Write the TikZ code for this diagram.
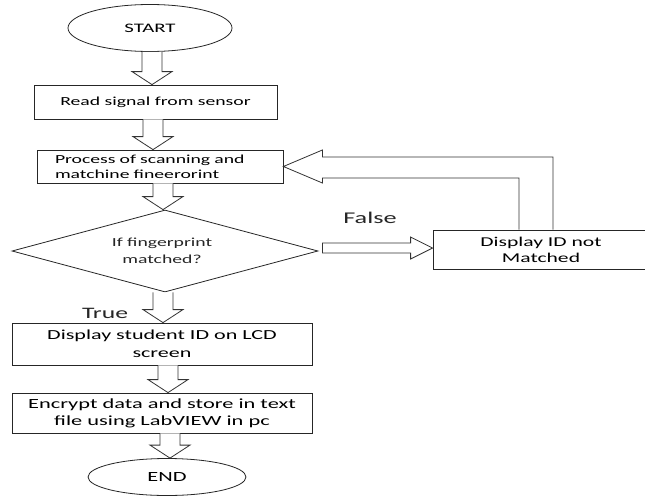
\documentclass[tikz,border=0pt]{standalone}
\usepackage{fontspec}
\setmainfont{Carlito}[FakeStretch=1.6]
\usetikzlibrary{shapes.geometric,calc}
\newcommand\fsz[2]{\fontsize{#1}{#2}\selectfont}
\tikzset{
  ln/.style={draw=black!85, line width=0.8pt},
  boxnode/.style={ln, rectangle, inner sep=0pt, align=center},
  termnode/.style={ln, ellipse, inner sep=0pt},
  decnode/.style={ln, diamond, inner sep=0pt},
  blk/.style={draw=black!80, line width=0.8pt, fill=white, line join=miter},
  lbl/.style={inner sep=0pt, text=black!85},
}
% vertical block arrow: #1 x (pt), #2 from anchor, #3 to anchor
\newcommand\blkdown[3]{%
  \draw[blk] let \p1=(#2), \p2=(#3) in
    (#1pt-10pt,\y1) -- (#1pt-10pt,\y2+13pt) -- (#1pt-20pt,\y2+13pt) --
    (#1pt,\y2) -- (#1pt+20pt,\y2+13pt) -- (#1pt+10pt,\y2+13pt) --
    (#1pt+10pt,\y1);}
\begin{document}
\begin{tikzpicture}[x=1pt,y=-1pt]
\useasboundingbox (0,0) rectangle (645,498);
\fill[white] (0,0) rectangle (645,498);

\node[termnode, minimum width=164pt, minimum height=47pt, font=\fsz{13}{15}] (start) at (150,28)
  {START};
\node[boxnode, minimum width=243pt, minimum height=34pt, font=\fsz{12.3}{14}] (read) at (155.5,102)
  {Read signal from sensor};
\node[boxnode, minimum width=246pt, minimum height=33pt, text width=210pt, align=left, font=\fsz{12.3}{15}] (proc) at (160,166.5)
  {Process of scanning and\\matchine fineerorint};
\node[decnode, minimum width=306pt, minimum height=82pt] (dec) at (165,251) {};
\node[lbl, align=center, font=\fsz{12.3}{17}] (dectext) at (162,250.5)
  {If fingerprint\\matched?};
\node[boxnode, minimum width=300pt, minimum height=42pt, font=\fsz{13.8}{17.5}] (disp) at (162,344)
  {Display student ID on LCD\\screen};
\node[boxnode, minimum width=300pt, minimum height=40pt, font=\fsz{14}{17}] (enc) at (162,413)
  {Encrypt data and store in text\\file using LabVIEW in pc};
\node[termnode, minimum width=158pt, minimum height=37pt, font=\fsz{14}{15}] (end) at (167,477)
  {END};
\node[boxnode, minimum width=216pt, minimum height=39pt, font=\fsz{13.5}{16}] (nom) at (541,249.5)
  {Display ID not\\Matched};

\node[lbl, font=\fsz{16}{18}] (true) at (105,313) {True};
\node[lbl, font=\fsz{16.4}{18}] (false) at (370,218) {False};

\blkdown{152}{start.south}{read.north}
\blkdown{153}{read.south}{proc.north}
\blkdown{163}{proc.south}{dec.north}
\blkdown{163}{dec.south}{disp.north}
\blkdown{168}{disp.south}{enc.north}
\blkdown{170}{enc.south}{end.north}

% False arrow
\draw[blk] let \p1=(dec.east), \p2=(nom.west) in
  (\x1+4pt,\y1+8pt) -- (\x2-22pt,\y1+8pt) -- (\x2-22pt,\y1+14pt) --
  (\x2,\y1+3pt) -- (\x2-22pt,\y1-8pt) -- (\x2-22pt,\y1-2pt) --
  (\x1+4pt,\y1-2pt) -- cycle;

% feedback arrow
\draw[blk] let \p1=(nom.north), \p2=(proc.east) in
  (519pt,\y1) -- (519pt,\y2-11.5pt) -- (\x2+39pt,\y2-11.5pt) --
  (\x2+39pt,\y2-16.5pt) -- (\x2,\y2) -- (\x2+39pt,\y2+16.5pt) --
  (\x2+39pt,\y2+9.5pt) -- (553pt,\y2+9.5pt) -- (553pt,\y1);
\end{tikzpicture}
\end{document}
